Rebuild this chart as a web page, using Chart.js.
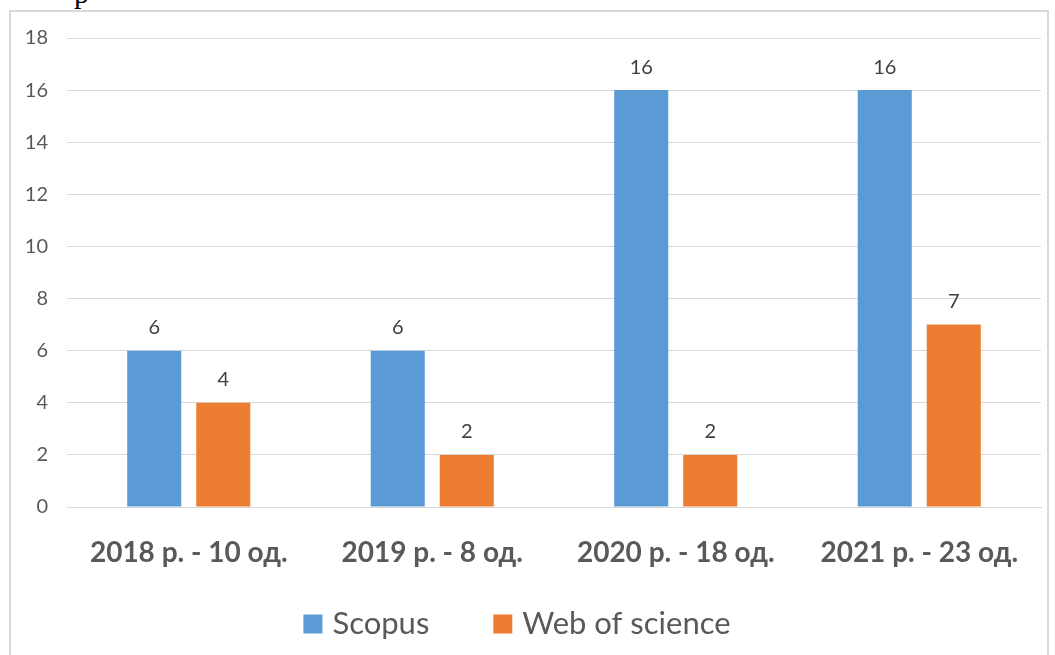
<!DOCTYPE html>
<html>
<head>
<meta charset="utf-8">
<script src="https://cdn.jsdelivr.net/npm/chart.js@4/dist/chart.umd.min.js"></script>
<style>
  body { margin: 0; background: #fff; }
  #frame {
    position: absolute; left: 9px; top: 10px;
    width: 1040px; height: 700px;
    border: 2px solid #d9d9d9; box-sizing: border-box;
  }
  #cut {
    position: absolute; left: 74px; top: -24px;
    font: 30px "Liberation Serif", serif; color: #000;
  }
  #chart { position: absolute; left: 0; top: 0; }
</style>
</head>
<body>
<div id="cut">р</div>
<div id="frame"></div>
<canvas id="chart" width="1055" height="655"></canvas>
<script>
// Chart data
const categories = ["2018 р. - 10 од.", "2019 р. - 8 од.", "2020 р. - 18 од.", "2021 р. - 23 од."];
const scopus = [6, 6, 16, 16];
const webOfScience = [4, 2, 2, 7];
const yTicks = [0, 2, 4, 6, 8, 10, 12, 14, 16, 18];

// Draw value labels above each bar
const valueLabels = {
  id: "valueLabels",
  afterDatasetsDraw(chart) {
    const ctx = chart.ctx;
    ctx.save();
    ctx.font = '20px Lato, sans-serif';
    ctx.fillStyle = "#404040";
    ctx.textAlign = "center";
    ctx.textBaseline = "middle";
    chart.data.datasets.forEach((ds, i) => {
      chart.getDatasetMeta(i).data.forEach((bar, j) => {
        ctx.fillText(ds.data[j], bar.x, bar.y - 23);
      });
    });
    ctx.restore();
  },
};

// Legend below the axis labels, Excel style spacing
const bottomLegend = {
  id: "bottomLegend",
  afterDraw(chart) {
    const ctx = chart.ctx;
    const box = 19, textGap = 10, itemGap = 64, cy = 624, cx = 517;
    ctx.save();
    ctx.font = '31px Lato, sans-serif';
    ctx.textBaseline = "middle";
    const items = chart.data.datasets.map((ds) => ({
      label: ds.label,
      color: ds.backgroundColor,
      w: box + textGap + ctx.measureText(ds.label).width,
    }));
    const total = items.reduce((s, it) => s + it.w, 0) + itemGap * (items.length - 1);
    let x = cx - total / 2;
    items.forEach((it) => {
      ctx.fillStyle = it.color;
      ctx.fillRect(x, cy - box / 2, box, box);
      ctx.fillStyle = "#595959";
      ctx.fillText(it.label, x + box + textGap, cy);
      x += it.w + itemGap;
    });
    ctx.restore();
  },
};

new Chart(document.getElementById("chart"), {
  type: "bar",
  data: {
    labels: categories,
    datasets: [
      { label: "Scopus", data: scopus, backgroundColor: "#5b9bd5" },
      { label: "Web of science", data: webOfScience, backgroundColor: "#ed7d31" },
    ],
  },
  options: {
    responsive: false,
    animation: false,
    devicePixelRatio: 1,
    layout: { padding: { left: 14, right: 14, top: 38, bottom: 73 } },
    datasets: { bar: { categoryPercentage: 0.567, barPercentage: 0.783 } },
    plugins: {
      legend: { display: false },
      tooltip: { enabled: false },
    },
    scales: {
      x: {
        grid: { display: false },
        border: { color: "#d9d9d9" },
        ticks: {
          color: "#595959", padding: 21,
          font: { family: "Lato", size: 28, weight: "bold" },
        },
        afterFit(s) { s.height = 75; },
      },
      y: {
        min: 0, max: 18,
        afterBuildTicks(s) { s.ticks = yTicks.map((v) => ({ value: v })); },
        grid: { color: "#d9d9d9", drawTicks: false },
        border: { display: false },
        ticks: {
          color: "#595959", padding: 19,
          font: { family: "Lato", size: 20 },
        },
        afterFit(s) { s.width = 53; },
      },
    },
  },
  plugins: [valueLabels, bottomLegend],
});
</script>
</body>
</html>
